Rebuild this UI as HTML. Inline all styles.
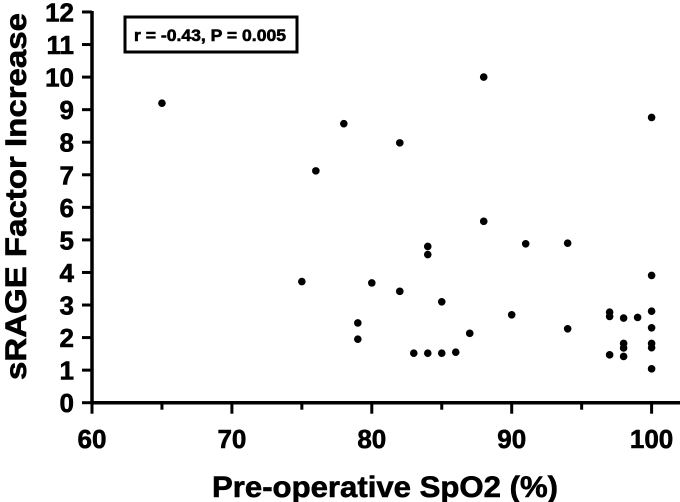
<!DOCTYPE html>
<html><head><meta charset="utf-8"><style>
body{margin:0;background:#fff}
svg{display:block;font-family:"Liberation Sans",Arial,sans-serif;font-weight:bold}
text{stroke:#000;stroke-width:0.6}
</style></head><body>
<svg id="chart" width="680" height="502" viewBox="0 0 680 502">
<g id="axes"></g><g id="pts"></g>
<rect x="125" y="17" width="172" height="35" fill="#fff" stroke="#000" stroke-width="3"/>
<text x="134" y="41" font-size="17" textLength="152" lengthAdjust="spacingAndGlyphs">r = -0.43, P = 0.005</text>
<text x="212" y="497" font-size="30" textLength="346" lengthAdjust="spacingAndGlyphs">Pre-operative SpO2 (%)</text>
<text transform="translate(26,380) rotate(-90)" font-size="30" textLength="367" lengthAdjust="spacingAndGlyphs">sRAGE Factor Increase</text>
</svg>
<script>
const xs=[65,75,76,78,79,79,80,82,82,83,84,84,84,85,85,86,87,88,88,90,91,94,94,97,97,97,98,98,98,98,99,100,100,100,100,100,100,100];
const ys=[9.2,3.72,7.12,8.57,2.45,1.95,3.68,7.98,3.42,1.52,4.8,4.55,1.52,3.1,1.52,1.55,2.13,10.0,5.57,2.7,4.88,4.9,2.27,2.78,2.65,1.47,2.6,1.82,1.68,1.42,2.62,8.76,3.91,2.81,2.3,1.82,1.69,1.04];
const xTicks=[60,70,80,90,100];
const xMinor=[65,75,85,95];
const yTicks=[0,1,2,3,4,5,6,7,8,9,10,11,12];
const X=v=>92+(v-60)*13.99;
const Y=v=>402.7-v*32.56;
const NS="http://www.w3.org/2000/svg";
const ax=document.getElementById('axes'),pg=document.getElementById('pts');
function mk(p,t,a){const e=document.createElementNS(NS,t);for(const k in a)e.setAttribute(k,a[k]);p.appendChild(e);return e;}
let l=mk(ax,'line',{x1:92,y1:Y(0),x2:680,y2:Y(0),stroke:'#000','stroke-width':3.5});


l=mk(ax,'line',{x1:92,y1:Y(0)+1.5,x2:92,y2:Y(12)-1,stroke:'#000','stroke-width':3.5});


yTicks.forEach(v=>{
 const t=mk(ax,'line',{x1:82,x2:92,y1:Y(v),y2:Y(v),stroke:'#000','stroke-width':3});
 
 
 const s=mk(ax,'text',{x:74,y:Y(v)+9.5,'font-size':26,'text-anchor':'end'});s.textContent=v;
 
 
});
xTicks.forEach(v=>{
 const t=mk(ax,'line',{x1:X(v),x2:X(v),y1:Y(0),y2:Y(0)+11,stroke:'#000','stroke-width':3});
 
 
 const s=mk(ax,'text',{x:X(v),y:448,'font-size':26,'text-anchor':'middle'});s.textContent=v;
 
 
});
xMinor.forEach(v=>{
 const t=mk(ax,'line',{x1:X(v),x2:X(v),y1:Y(0),y2:Y(0)+7,stroke:'#000','stroke-width':3});
 
 
});
xs.forEach((v,i)=>{
 const c=mk(pg,'circle',{cx:X(v),cy:Y(ys[i]),r:3.8,fill:'#000'});
 
 
});
</script>
</body></html>
